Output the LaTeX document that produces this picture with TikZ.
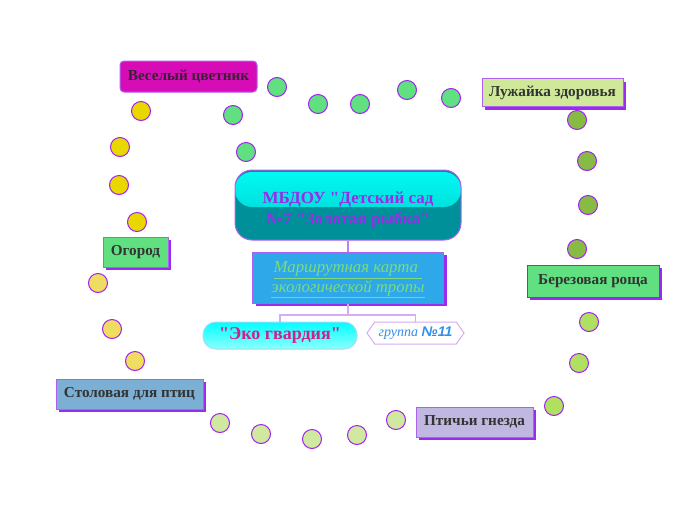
\documentclass[tikz,border=0pt]{standalone}
\usepackage{fontspec}
\setmainfont{Liberation Serif}
\newfontfamily\plainserif{Liberation Serif}
\newfontfamily\grpfont{Liberation Sans}
\usetikzlibrary{shadows,shapes.symbols}

\definecolor{placeborder}{HTML}{B060F0}
\definecolor{shadowpurple}{HTML}{9A2CF0}
\definecolor{placetext}{HTML}{333333}
\definecolor{flowertext}{HTML}{3C1E38}
\definecolor{dotborder}{HTML}{A020F0}
\definecolor{magentabox}{HTML}{D60DB6}
\definecolor{lawnfill}{HTML}{D0E89A}
\definecolor{greenfill}{HTML}{60E080}
\definecolor{nestfill}{HTML}{C0B8E0}
\definecolor{feederfill}{HTML}{7BAFD4}
\definecolor{titlelow}{HTML}{00909A}
\definecolor{titletop}{HTML}{00FAF4}
\definecolor{titlemid}{HTML}{00CCCC}
\definecolor{titletext}{HTML}{9A2CE8}
\definecolor{routeblue}{HTML}{2EA8E8}
\definecolor{routetext}{HTML}{7CDC7C}
\definecolor{ecotext}{HTML}{D0208A}
\definecolor{grouptext}{HTML}{3090E8}
\definecolor{linkpurple}{HTML}{C080F0}
\definecolor{forkpurple}{HTML}{D4ACF4}
\definecolor{dotyellow}{HTML}{E8D800}
\definecolor{dotpaleyellow}{HTML}{EEDD60}
\definecolor{dotgreen}{HTML}{60E080}
\definecolor{dotolive}{HTML}{88BB44}
\definecolor{dotlime}{HTML}{B0E060}
\definecolor{dotpale}{HTML}{D0E8A0}

\tikzset{
  place/.style={draw=placeborder, line width=1pt, inner sep=0pt,
    font=\bfseries\fontsize{15.2}{18}\selectfont, text=placetext,
    general shadow={fill=shadowpurple, shadow xshift=3pt, shadow yshift=-3pt}},
  dot/.style={circle, draw=dotborder, line width=1pt, minimum size=19pt, inner sep=0pt},
  trunk/.style={draw=linkpurple, line width=1.6pt},
  branch/.style={draw=forkpurple, line width=1.2pt}
}

\begin{document}
\begin{tikzpicture}[x=1pt,y=-1pt]
\useasboundingbox (0,0) rectangle (696,520);
% trail dots
\foreach \px/\py in {141/111, 120/147, 119/185, 137/222}
  \node[dot, fill=dotyellow] at (\px,\py) {};
\foreach \px/\py in {98/283, 112/329, 135/361}
  \node[dot, fill=dotpaleyellow] at (\px,\py) {};
\foreach \px/\py in {277/87, 318/104, 360/104, 407/90, 451/98, 233/115, 246/152}
  \node[dot, fill=dotgreen] at (\px,\py) {};
\foreach \px/\py in {577/120, 587/161, 588/205, 577/249}
  \node[dot, fill=dotolive] at (\px,\py) {};
\foreach \px/\py in {589/322, 579/363, 554/406}
  \node[dot, fill=dotlime] at (\px,\py) {};
\foreach \px/\py in {220/423, 261/434, 312/439, 357/435, 396/420}
  \node[dot, fill=dotpale] at (\px,\py) {};

% stops of the trail
\node[draw=placeborder, line width=1pt, rounded corners=4pt, fill=magentabox,
  minimum width=137pt, minimum height=31pt, inner sep=0pt,
  font=\bfseries\fontsize{15.2}{18}\selectfont, text=flowertext] (flowers) at (188.5,76.5) {Веселый цветник};
\node[place, fill=lawnfill, minimum width=141pt, minimum height=28pt] (lawn) at (552.5,92.5) {Лужайка здоровья};
\node[place, fill=greenfill, draw=dotborder, minimum width=132pt, minimum height=32pt] (birches) at (593,281) {Березовая роща};
\node[place, fill=nestfill, minimum width=117pt, minimum height=30pt] (nests) at (474.5,422) {Птичьи гнезда};
\node[place, fill=feederfill, minimum width=147pt, minimum height=30pt] (feeder) at (129.5,394) {Столовая для птиц};
\node[place, fill=greenfill, minimum width=65pt, minimum height=30pt] (garden) at (135.5,252) {Огород};

% centre
\node[draw=placeborder, line width=1pt, rounded corners=17pt, fill=titlelow,
  minimum width=226pt, minimum height=70pt, inner sep=0pt, align=center,
  font=\plainserif\bfseries\fontsize{17}{21}\selectfont, text=titletext,
  path picture={\fill[top color=titletop, bottom color=titlemid]
    ([yshift=-2pt]path picture bounding box.north west) rectangle ([yshift=-2pt]path picture bounding box.east);}]
  (title) at (348,205) {\rule{0pt}{21pt}МБДОУ "Детский сад\\№7 "Золотая рыбка"};
\node[place, fill=routeblue, minimum width=191pt, minimum height=51pt, align=center,
  font=\itshape\fontsize{16.8}{20}\selectfont, text=routetext]
  (route) at (348,277.5) {\rule{0pt}{16pt}\underline{Маршрутная карта\ }\\\underline{экологической тропы}};
\node[draw=cyan!40, line width=1pt, rounded corners=13pt, top color=cyan, bottom color=cyan!45,
  minimum width=154pt, minimum height=27pt, inner sep=0pt,
  font=\plainserif\bfseries\fontsize{18}{22}\selectfont, text=ecotext] (eco) at (280,335.5) {"Эко гвардия"};
\node[signal, signal to=west and east, signal pointer angle=110, draw=forkpurple, line width=1pt,
  fill=white, minimum width=97pt, minimum height=22pt, inner sep=0pt, text=grouptext,
  font=\fontsize{14}{16}\selectfont] (group) at (415.5,333) {\itshape группа {\grpfont\bfseries\itshape №11}};

\coordinate (fork) at (348,315);
\draw[trunk] (title) -- (route);
\draw[branch] (route) -- (fork);
\draw[branch] (fork) -| (eco);
\draw[branch] (fork) -| (group);
\end{tikzpicture}
\end{document}
